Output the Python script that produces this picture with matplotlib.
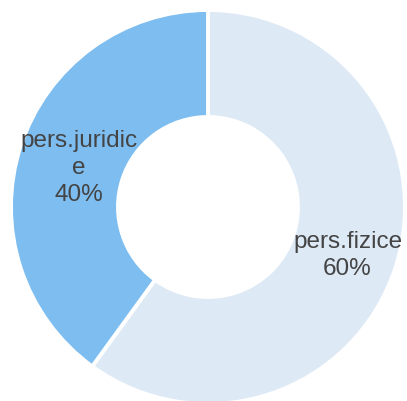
import textwrap
import numpy as np
import matplotlib
matplotlib.use("Agg")
import matplotlib.pyplot as plt

# Share of clients by legal status
categories = ["pers.fizice", "pers.juridice"]
shares = [60, 40]
colors = ["#dee9f6", "#7dbdf0"]

W, H, DPI = 407, 402, 100
fig = plt.figure(figsize=(W / DPI, H / DPI), dpi=DPI)
ax = fig.add_axes([0, 0, 1, 1])

cx, cy = 208, H - 208
radius = 197
hole = 90
label_dist = [0.745, 0.69]

labels = ["\n".join(textwrap.wrap(c, 12)) + f"\n{v}%" for c, v in zip(categories, shares)]

wedges, texts = ax.pie(
    shares,
    colors=colors,
    startangle=90,
    counterclock=False,
    center=(cx, cy),
    radius=radius,
    labels=labels,
    wedgeprops=dict(width=radius - hole, edgecolor="white", linewidth=2.8),
    textprops=dict(fontsize=17.5, color="#444444", family="Liberation Sans",
                   linespacing=1.3),
    frame=True,
)
for w, t, d in zip(wedges, texts, label_dist):
    ang = np.deg2rad((w.theta1 + w.theta2) / 2)
    t.set_position((cx + d * radius * np.cos(ang), cy + d * radius * np.sin(ang) - 2))
    t.set_horizontalalignment("center")
    t.set_verticalalignment("center")

ax.set_xlim(0, W)
ax.set_ylim(0, H)
ax.set_aspect("equal")
ax.axis("off")

fig.savefig("out.png", dpi=DPI)
